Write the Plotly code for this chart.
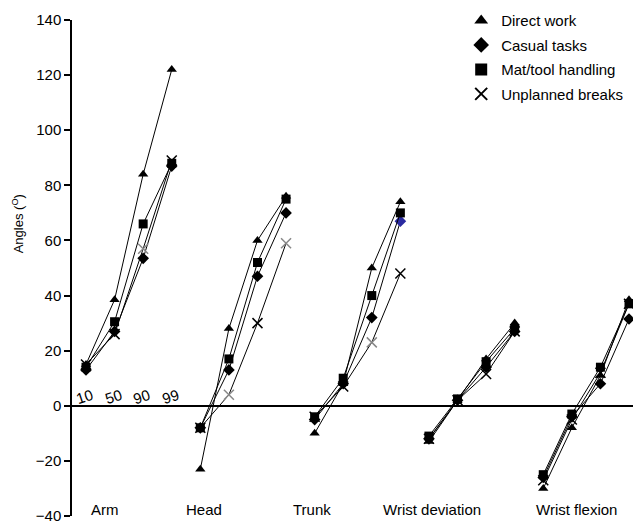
import plotly.graph_objects as go

groups = ["Arm", "Head", "Trunk", "Wrist deviation", "Wrist flexion"]
percentiles = ["10", "50", "90", "99"]

direct_work = [[15, 38.5, 84, 122], [-23, 28, 60, 76], [-10, 8, 50, 74],
               [-13, 2, 17, 30], [-30, -8, 11, 38.5]]
casual_tasks = [[13, 27, 53.5, 87], [-8, 13, 47, 70], [-5, 8, 32, 67],
                [-12, 2, 14, 27], [-26, -4, 8, 31.5]]
mat_tool = [[14, 30.5, 66, 88], [-8, 17, 52, 75], [-4, 10, 40, 70],
            [-11, 2.5, 16, 28], [-25, -3, 14, 37]]
unplanned = [[15, 26, 57, 89], [-8, 4, 30, 59], [-4, 7, 23, 48],
             [-12, 2, 11.5, 27], [-27, -5, 12, 37]]

series = [
    ("Direct work", direct_work, "triangle-up"),
    ("Casual tasks", casual_tasks, "diamond"),
    ("Mat/tool handling", mat_tool, "square"),
    ("Unplanned breaks", unplanned, "x-thin-open"),
]

FONT = "Liberation Sans, Arial, Helvetica, sans-serif"

fig = go.Figure()

def build_xy(vals):
    xs, ys = [], []
    for g, gv in enumerate(vals):
        for i, v in enumerate(gv):
            xs.append(4 * g + i)
            ys.append(v)
        xs.append(None)
        ys.append(None)
    return xs, ys

for name, vals, sym in series:
    xs, ys = build_xy(vals)
    colors = []
    for g in range(len(vals)):
        for i in range(4):
            c = "black"
            if name == "Casual tasks" and g == 2 and i == 3:
                c = "#2a2aa0"
            if name == "Unplanned breaks" and (g, i) in [(0, 2), (1, 1), (1, 3), (2, 2)]:
                c = "#888888"
            colors.append(c)
        colors.append("black")
    is_x = sym.startswith("x")
    fig.add_trace(go.Scatter(
        x=xs, y=ys, mode="lines+markers", showlegend=False,
        line=dict(color="black", width=1),
        marker=dict(symbol=sym, size=10 if is_x else 9, color=colors,
                    line=dict(width=1.5 if is_x else 0, color=colors)),
        connectgaps=False,
    ))

# legend-only traces (markers only)
for k, (name, vals, sym) in enumerate(series):
    is_x = sym.startswith("x")
    fig.add_trace(go.Scatter(
        x=[None], y=[None], mode="markers", name=name, legendgroup=f"g{k}",
        marker=dict(symbol=sym, size=10 if is_x else 9, color="black",
                    line=dict(width=1.5 if is_x else 0, color="black")),
    ))

annotations = []
# percentile labels
for i, p in enumerate(percentiles):
    annotations.append(dict(x=i - 0.05, y=3.5, xref="x", yref="y", text=p,
                            showarrow=False, textangle=-18,
                            font=dict(family=FONT, size=15, color="black")))
# group labels
label_x = [0.66, 4.13, 7.91, 12.1, 17.18]
for gx, gname in zip(label_x, groups):
    annotations.append(dict(x=gx, y=-37.5, xref="x", yref="y", text=gname,
                            showarrow=False,
                            font=dict(family=FONT, size=15, color="black")))
# y axis title
annotations.append(dict(x=-0.095, y=0.59, xref="paper", yref="paper",
                        xanchor="center", yanchor="middle",
                        text="Angles (<sup>O</sup>)", textangle=-90,
                        showarrow=False,
                        font=dict(family=FONT, size=13, color="black")))

# page body has an 8px default margin; compensate in figure size/margins
fig.update_layout(
    width=633, height=519,
    margin=dict(l=64, r=0, t=12, b=11, autoexpand=False),
    paper_bgcolor="white", plot_bgcolor="white",
    font=dict(family=FONT, size=14, color="black"),
    showlegend=True,
    legend=dict(x=0.684, y=1.032, xanchor="left", yanchor="top",
                bgcolor="rgba(0,0,0,0)", font=dict(family=FONT, size=15),
                itemsizing="constant", tracegroupgap=2),
    annotations=annotations,
    xaxis=dict(range=[-0.49, 19.42], showgrid=False, showline=False,
               showticklabels=False, zeroline=False, ticks=""),
    yaxis=dict(range=[-40, 140], dtick=20, tick0=-40, showgrid=False,
               showline=True, linecolor="black", linewidth=1.5,
               ticks="outside", ticklen=6, tickwidth=1.5, tickcolor="black",
               zeroline=True, zerolinecolor="black", zerolinewidth=1.5,
               tickfont=dict(family=FONT, size=15, color="black")),
)

fig.write_html("out.html")
